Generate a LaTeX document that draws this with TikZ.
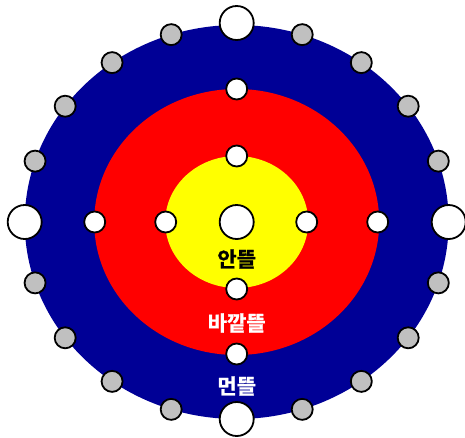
\documentclass[tikz,border=0pt]{standalone}
\usepackage{fontspec}
\newfontfamily\kor{Noto Sans CJK KR}[BoldFont={Noto Sans CJK KR Bold},BoldFeatures={FakeBold=1.2}]
\definecolor{navy}{RGB}{0,0,150}
\definecolor{pinred}{RGB}{255,0,0}
\definecolor{pinyellow}{RGB}{255,255,0}
\definecolor{pingray}{RGB}{192,192,192}

\begin{document}
\begin{tikzpicture}[x=1pt,y=1pt]
    \tikzset{hole/.style = {shape=circle,draw,line width=1.8pt,fill=white,minimum size=34pt,inner sep=0pt}}
    \tikzset{hole2/.style = {shape=circle,draw,line width=1.8pt,fill=white,minimum size=21pt,inner sep=0pt}}
    \tikzset{hole3/.style = {shape=circle,draw,line width=1.8pt,fill=pingray,minimum size=21pt,inner sep=0pt}}
    \tikzset{zone/.style = {draw=none,font=\kor\bfseries\fontsize{21}{25}\selectfont}}

    \useasboundingbox (-236.7,-215) rectangle (228.3,222);

    % rings
    \fill[navy] (0,0) ellipse [x radius=212, y radius=197];
    \fill[pinred] (0,0) ellipse [x radius=142.5, y radius=133];
    \fill[pinyellow] (0,0) ellipse [x radius=71.5, y radius=66];

    % centre
    \node[hole] (c) at (0,0) {};

    % inner ring
    \node[hole2] (in) at (0,66) {};
    \node[hole2] (iw) at (-71,0) {};
    \node[hole2] (ie) at (70,0) {};
    \node[hole2] (is) at (0,-67) {};

    % middle ring
    \node[hole2] (mn) at (0,133) {};
    \node[hole2] (mw) at (-142,0) {};
    \node[hole2] (me) at (141,0) {};
    \node[hole2] (ms) at (0,-132) {};

    % outer ring
    \node[hole] (on) at (90:212pt and 199pt) {};
    \node[hole] (ow) at (180:212pt and 197pt) {};
    \node[hole] (oe) at (0:212pt and 197pt) {};
    \node[hole] (os) at (270:212pt and 197pt) {};

    \node[hole3] (g1) at (18:212pt and 197pt) {};
    \node[hole3] (g2) at (36:212pt and 197pt) {};
    \node[hole3] (g3) at (54:212pt and 197pt) {};
    \node[hole3] (g4) at (72:212pt and 197pt) {};
    \node[hole3] (g5) at (108:212pt and 197pt) {};
    \node[hole3] (g6) at (126:212pt and 197pt) {};
    \node[hole3] (g7) at (144:212pt and 197pt) {};
    \node[hole3] (g8) at (162:212pt and 197pt) {};
    \node[hole3] (g9) at (198:212pt and 197pt) {};
    \node[hole3] (g10) at (216:212pt and 197pt) {};
    \node[hole3] (g11) at (234:212pt and 197pt) {};
    \node[hole3] (g12) at (252:212pt and 197pt) {};
    \node[hole3] (g13) at (288:212pt and 197pt) {};
    \node[hole3] (g14) at (306:212pt and 197pt) {};
    \node[hole3] (g15) at (324:212pt and 197pt) {};
    \node[hole3] (g16) at (342:212pt and 197pt) {};

    % labels
    \node[zone,text=black] (inner) at (0,-37) {안뜰};
    \node[zone,text=white] (middle) at (0,-101) {바깥뜰};
    \node[zone,text=white] (outer) at (0,-164) {먼뜰};
\end{tikzpicture}
\end{document}
